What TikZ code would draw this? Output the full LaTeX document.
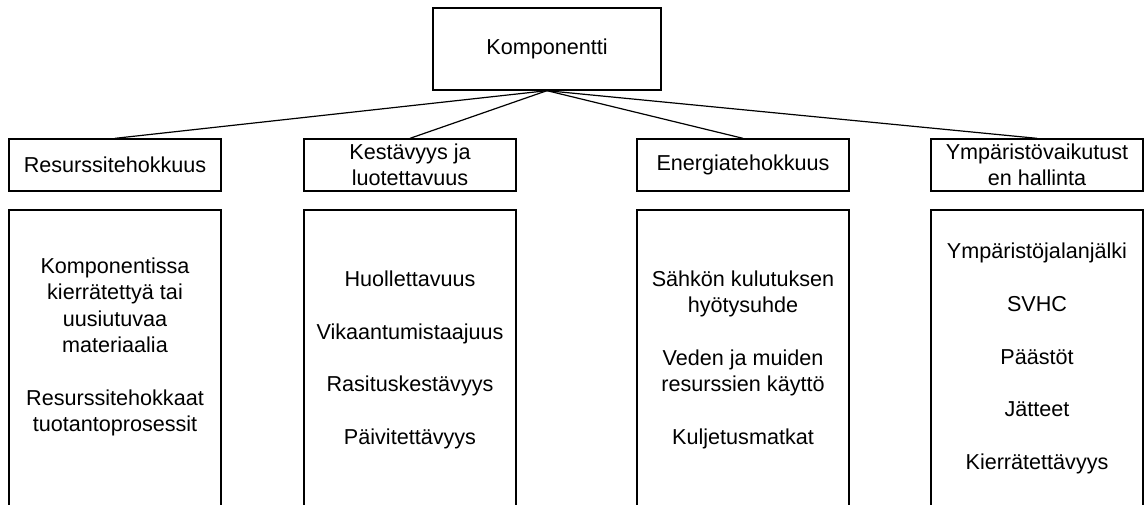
\documentclass[tikz,border=0pt]{standalone}
\usepackage{fontspec}
\setmainfont{Liberation Sans}
\begin{document}
\begin{tikzpicture}[x=0.75pt,y=-0.75pt,
  txt/.style={font=\fontsize{16.2pt}{19.8pt}\selectfont},
  box/.style={draw=black, line width=1pt, fill=white, inner sep=0pt},
  topbox/.style={box, txt, minimum width=171pt, minimum height=61.5pt},
  headbox/.style={box, txt, align=center, minimum width=159pt, minimum height=39pt},
  listbox/.style={box, minimum width=159pt, minimum height=222pt},
  listtext/.style={txt, align=center, inner sep=0pt},
  link/.style={draw=black, line width=0.9pt}]
\useasboundingbox (0,0) rectangle (1144,504);

% root
\node[topbox] (root) at (547,49) {Komponentti};

% category headers
\node[headbox] (h1) at (115,165) {Resurssitehokkuus};
\node[headbox] (h2) at (410,165) {Kestävyys ja\\luotettavuus};
\node[headbox] (h3) at (743,165) {Energiatehokkuus};
\node[headbox] (h4) at (1037,165) {Ympäristövaikutust\\en hallinta};

% connectors
\draw[link] (root.south) -- (h1.north);
\draw[link] (root.south) -- (h2.north);
\draw[link] (root.south) -- (h3.north);
\draw[link] (root.south) -- (h4.north);

% detail boxes
\node[listbox] (c1) at (115,358) {};
\node[listbox] (c2) at (410,358) {};
\node[listbox] (c3) at (743,358) {};
\node[listbox] (c4) at (1037,358) {};

\node[listtext] (t1) at (115,347) {Komponentissa\\kierrätettyä tai\\uusiutuvaa\\materiaalia\\[19.8pt]Resurssitehokkaat\\tuotantoprosessit};
\node[listtext] (t2) at (410,360) {Huollettavuus\\[19.8pt]Vikaantumistaajuus\\[19.8pt]Rasituskestävyys\\[19.8pt]Päivitettävyys};
\node[listtext] (t3) at (743,360) {Sähkön kulutuksen\\hyötysuhde\\[19.8pt]Veden ja muiden\\resurssien käyttö\\[19.8pt]Kuljetusmatkat};
\node[listtext] (t4) at (1037,358.5) {Ympäristöjalanjälki\\[19.8pt]SVHC\\[19.8pt]Päästöt\\[19.8pt]Jätteet\\[19.8pt]Kierrätettävyys};
\end{tikzpicture}
\end{document}
